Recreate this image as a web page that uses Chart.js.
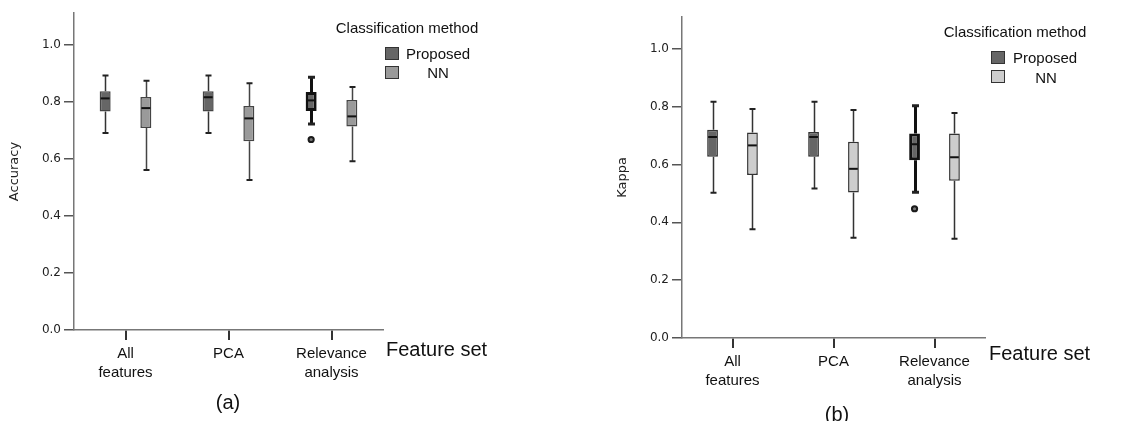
<!DOCTYPE html>
<html><head><meta charset="utf-8">
<script src="https://cdn.jsdelivr.net/npm/chart.js@4"></script>
<style>
body{margin:0;background:#fff;width:1148px;height:421px;overflow:hidden;position:relative;font-family:"Liberation Sans",Arial,sans-serif;}
canvas{position:absolute;top:0}
#cA{left:0}
#cB{left:574px}
.t{position:absolute;white-space:nowrap;color:#111;line-height:1;transform:translate(0,-50%)}
.c{transform:translate(-50%,-50%)}
.sw{position:absolute;width:14px;height:13px;box-sizing:border-box;border:1.5px solid #333}
</style></head><body>
<canvas id="cA" width="574" height="421"></canvas>
<canvas id="cB" width="574" height="421"></canvas>

<div class="t c" style="left:407px;top:27px;font-size:15px">Classification method</div>
<div class="sw" style="left:385px;top:47px;background:#666"></div>
<div class="t" style="left:406px;top:53px;font-size:15px">Proposed</div>
<div class="sw" style="left:385px;top:66px;background:#9a9a9a"></div>
<div class="t c" style="left:438px;top:72px;font-size:15px">NN</div>
<div class="t" style="left:386px;top:349px;font-size:20px">Feature set</div>
<div class="t c" style="left:228px;top:402px;font-size:20px">(a)</div>

<div class="t c" style="left:1015px;top:31px;font-size:15px">Classification method</div>
<div class="sw" style="left:991px;top:51px;background:#666"></div>
<div class="t" style="left:1013px;top:57px;font-size:15px">Proposed</div>
<div class="sw" style="left:991px;top:70px;background:#cdcdcd"></div>
<div class="t c" style="left:1046px;top:77px;font-size:15px">NN</div>
<div class="t" style="left:989px;top:353px;font-size:20px">Feature set</div>
<div class="t c" style="left:837px;top:414px;font-size:20px">(b)</div>

<script>
// ---- data ----
const categories = [["All", "features"], "PCA", ["Relevance", "analysis"]];
const seriesNames = ["Proposed", "NN"];
// five-number summaries: [min, Q1, median, Q3, max]
const accProposed = [[0.690, 0.765, 0.811, 0.836, 0.891], [0.690, 0.765, 0.815, 0.836, 0.891], [0.721, 0.767, 0.804, 0.833, 0.885]];
const accNN       = [[0.560, 0.707, 0.777, 0.816, 0.873], [0.525, 0.661, 0.741, 0.784, 0.864], [0.591, 0.713, 0.748, 0.805, 0.851]];
const accProposedOutliers = [[], [], [0.667]];
const accNNOutliers       = [[], [], []];
const kapProposed = [[0.502, 0.627, 0.695, 0.720, 0.817], [0.517, 0.627, 0.695, 0.712, 0.817], [0.504, 0.615, 0.670, 0.707, 0.803]];
const kapNN       = [[0.376, 0.564, 0.666, 0.711, 0.792], [0.347, 0.503, 0.585, 0.679, 0.788], [0.343, 0.544, 0.625, 0.707, 0.778]];
const kapProposedOutliers = [[], [], [0.447]];
const kapNNOutliers       = [[], [], []];
const yTickStep = 0.2;

// ---- styles ----
const emphasis = [false, false, true]; // bold-outlined Proposed box
const proposedFill = "#666666";
const nnFillA = "#9a9a9a";
const nnFillB = "#cdcdcd";

const boxPlugin = {
  id: "boxWhiskers",
  beforeDatasetsDraw(chart) {
    const ctx = chart.ctx, ys = chart.scales.y;
    chart.data.datasets.forEach((ds, di) => {
      const meta = chart.getDatasetMeta(di);
      meta.data.forEach((bar, i) => {
        const s = ds.summary[i];
        const bold = ds.bold[i];
        const x = Math.round(bar.x) + 0.5;
        const capHalf = bold ? 3.5 : 3;
        ctx.save();
        ctx.strokeStyle = bold ? "#111" : ds.whiskerColor;
        ctx.lineWidth = bold ? 3 : 1.5;
        ctx.beginPath();
        ctx.moveTo(x, ys.getPixelForValue(s[3]));
        ctx.lineTo(x, ys.getPixelForValue(s[4]));
        ctx.moveTo(x, ys.getPixelForValue(s[1]));
        ctx.lineTo(x, ys.getPixelForValue(s[0]));
        ctx.stroke();
        ctx.lineWidth = bold ? 3 : 2;
        ctx.strokeStyle = "#222";
        ctx.beginPath();
        [s[0], s[4]].forEach(v => {
          const yy = ys.getPixelForValue(v);
          ctx.moveTo(x - capHalf, yy); ctx.lineTo(x + capHalf, yy);
        });
        ctx.stroke();
        ctx.restore();
      });
    });
  },
  afterDatasetsDraw(chart) {
    const ctx = chart.ctx, ys = chart.scales.y;
    chart.data.datasets.forEach((ds, di) => {
      const meta = chart.getDatasetMeta(di);
      meta.data.forEach((bar, i) => {
        const s = ds.summary[i];
        const half = bar.width / 2;
        const ym = ys.getPixelForValue(s[2]);
        ctx.save();
        ctx.strokeStyle = "#111";
        ctx.lineWidth = 2;
        ctx.beginPath();
        ctx.moveTo(bar.x - half + 1, ym); ctx.lineTo(bar.x + half - 1, ym);
        ctx.stroke();
        (ds.outliers[i] || []).forEach(v => {
          ctx.beginPath();
          ctx.arc(bar.x, ys.getPixelForValue(v), 2.6, 0, Math.PI * 2);
          ctx.fillStyle = "#777";
          ctx.fill();
          ctx.lineWidth = 2;
          ctx.strokeStyle = "#1a1a1a";
          ctx.stroke();
        });
        ctx.restore();
      });
    });
  }
};

function makeDataset(label, summary, outliers, fill, border, whiskerColor, bold) {
  return {
    label,
    data: summary.map(s => [s[1], s[3]]),
    summary, outliers, bold, whiskerColor,
    backgroundColor: fill,
    borderColor: bold.map(b => b ? "#111" : border),
    borderWidth: bold.map(b => b ? 3 : 1.5),
    borderSkipped: false,
    barPercentage: 0.27,
    categoryPercentage: 0.79
  };
}

function makeChart(id, datasets, yTitle, pad, yWidth, xHeight, titlePadTop) {
  return new Chart(document.getElementById(id), {
    type: "bar",
    data: { labels: categories, datasets },
    plugins: [boxPlugin],
    options: {
      responsive: false,
      animation: false,
      layout: { padding: pad },
      plugins: { legend: { display: false }, tooltip: { enabled: false } },
      scales: {
        x: {
          offset: true,
          grid: { display: true, drawOnChartArea: false, drawTicks: true, tickLength: 10, offset: false, color: "#333", lineWidth: 2 },
          border: { display: true, color: "#777", width: 1.5 },
          ticks: { color: "#111", font: { family: "'Liberation Sans', Arial, sans-serif", size: 15, lineHeight: 1.3 }, padding: 4, maxRotation: 0, autoSkip: false },
          afterFit: sc => { sc.height = xHeight; }
        },
        y: {
          min: 0, max: 1.11,
          grid: { display: true, drawOnChartArea: false, drawTicks: true, tickLength: 10, color: "#555", lineWidth: 1.5 },
          border: { display: true, color: "#777", width: 1.5 },
          ticks: { stepSize: yTickStep, includeBounds: false, color: "#222", padding: 3,
                   font: { family: "'DejaVu Sans', sans-serif", size: 12 },
                   callback: v => Number(v).toFixed(1) },
          title: { display: true, text: yTitle, color: "#222", padding: { top: titlePadTop, bottom: 4 },
                   font: { family: "'DejaVu Sans', sans-serif", size: 13 } },
          afterFit: sc => { sc.width = yWidth; }
        }
      }
    }
  });
}

makeChart("cA", [
  makeDataset(seriesNames[0], accProposed, accProposedOutliers, proposedFill, "#444", "#333", emphasis),
  makeDataset(seriesNames[1], accNN, accNNOutliers, nnFillA, "#444", "#444", [false, false, false])
], "Accuracy", { top: 13, right: 191, bottom: 0, left: 0 }, 74, 91, 7);

makeChart("cB", [
  makeDataset(seriesNames[0], kapProposed, kapProposedOutliers, proposedFill, "#333", "#333", emphasis),
  makeDataset(seriesNames[1], kapNN, kapNNOutliers, nnFillB, "#333", "#333", [false, false, false])
], "Kappa", { top: 17, right: 163, bottom: 0, left: 37 }, 71, 83, 4);
</script>
</body></html>
